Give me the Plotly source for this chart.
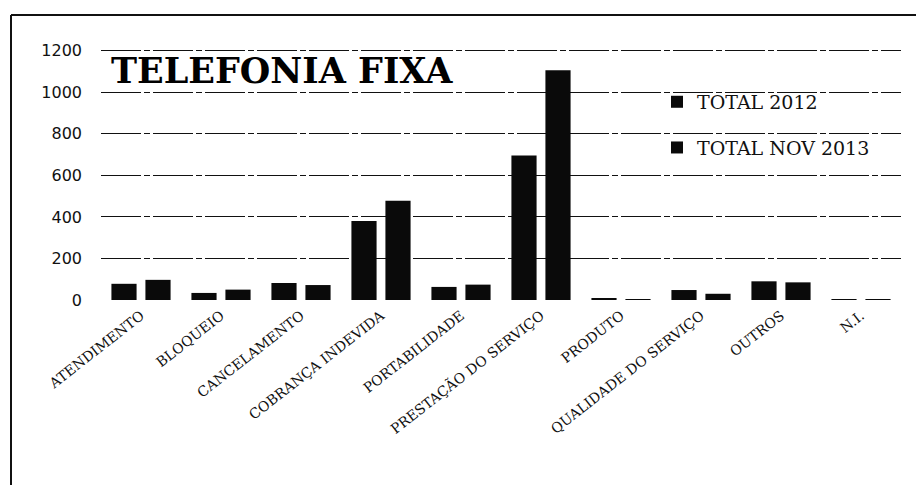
import plotly.graph_objects as go

categories = ["ATENDIMENTO", "BLOQUEIO", "CANCELAMENTO", "COBRANÇA INDEVIDA",
              "PORTABILIDADE", "PRESTAÇÃO DO SERVIÇO", "PRODUTO",
              "QUALIDADE DO SERVIÇO", "OUTROS", "N.I."]
total_2012 = [78, 34, 82, 380, 63, 696, 5, 48, 90, 1]
total_nov_2013 = [97, 50, 72, 478, 74, 1106, 3, 30, 85, 1]
y_ticks = [0, 200, 400, 600, 800, 1000, 1200]

fig = go.Figure()
fig.add_trace(go.Bar(name="TOTAL 2012", x=categories, y=total_2012,
                     marker=dict(color="#0a0a0a", line=dict(width=0)),
                     legendgroup="a"))
fig.add_trace(go.Bar(name="TOTAL NOV 2013", x=categories, y=total_nov_2013,
                     marker=dict(color="#0a0a0a", line=dict(width=0)),
                     legendgroup="b"))

fig.update_layout(
    width=916, height=485,
    margin=dict(l=101, r=15, t=30, b=185),
    paper_bgcolor="white", plot_bgcolor="white",
    barmode="group", bargap=0.15, bargroupgap=0.26,
    showlegend=True,
    legend=dict(x=0.695, y=0.804, xanchor="left", yanchor="top",
                bgcolor="rgba(0,0,0,0)", tracegroupgap=18,
                font=dict(family="DejaVu Serif", size=19, color="#111"),
                itemwidth=30),
    font=dict(family="DejaVu Serif", color="#111"),
)
fig.update_xaxes(tickangle=-38, showgrid=False, showline=False, ticks="",
                 ticklabelstandoff=4,
                 tickfont=dict(family="DejaVu Serif", size=14, color="#111"))
fig.update_yaxes(range=[0, 1300], tickvals=y_ticks, showgrid=True,
                 gridcolor="#111", gridwidth=1.3, griddash="40px,3px,6px,3px",
                 zeroline=False, showline=False, ticks="", ticklabelstandoff=18,
                 tickfont=dict(family="DejaVu Sans", size=16, color="#111"))

fig.add_annotation(text="<b>TELEFONIA FIXA</b>", xref="paper", yref="paper",
                   x=0.01, y=0.933, xanchor="left", yanchor="top", showarrow=False,
                   font=dict(family="DejaVu Serif", size=35, color="#000"))

fig.add_shape(type="line", xref="paper", yref="paper", x0=-0.1125, x1=1.1,
              y0=1.0556, y1=1.0556, line=dict(color="#111", width=2))
fig.add_shape(type="line", xref="paper", yref="paper", x0=-0.1125, x1=-0.1125,
              y0=1.0556, y1=-0.8, line=dict(color="#111", width=2))

fig.write_html("out.html", config={"displayModeBar": False},
               post_script="document.body.style.margin='0';document.body.style.overflow='hidden';")
